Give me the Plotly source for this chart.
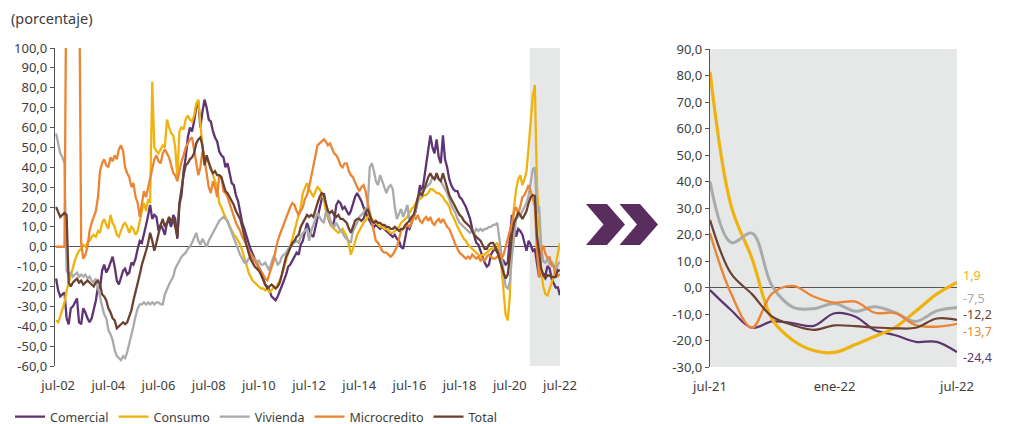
import pandas as pd
import plotly.graph_objects as go

# ---------------- data (monthly, jun-2002 .. jul-2022) ----------------
START = "2002-06-01"

comercial = [
    -16, -22, -25, -24, -23, -36, -39, -31, -30, -28, -26, -38,
    -39, -31, -33, -36, -38, -36, -32, -27, -20, -21, -12, -9,
    -13, -11, -8, -5, -10, -17, -19, -15, -12, -11, -14, -13,
    -8, -9, -6, -1, 3, 2, 6, 11, 16, 21, 14, 16,
    15, 8, 11, 9, 6, 12, 13, 10, 16, 14, 4, 21,
    26, 38, 45, 55, 60, 58, 63, 70, 73, 60, 68, 74,
    70, 64, 63, 58, 55, 53, 48, 46, 45, 40, 42, 36,
    32, 31, 26, 23, 18, 12, 9, 5, 2, -1, -4, -6,
    -8, -11, -14, -16, -19, -20, -22, -25, -26, -27, -25, -22,
    -20, -17, -14, -10, -9, -7, -5, -3, -4, 1, 3, 8,
    12, 9, 6, 5, 10, 14, 20, 24, 27, 21, 15, 12,
    10, 13, 21, 23, 22, 19, 20, 18, 16, 18, 22, 25,
    27, 25, 23, 20, 17, 15, 13, 11, 10, 11, 10, 9,
    10, 9, 8, 7, 6, 5, 6, 4, 3, 0, -1, 5,
    10, 9, 12, 16, 18, 24, 31, 27, 34, 40, 48, 56,
    50, 47, 54, 45, 42, 56, 44, 40, 34, 31, 29, 28,
    28, 25, 24, 22, 20, 17, 14, 9, 5, 2, 1, -2,
    -5, -8, -10, -9, -4, -2, -1, -3, -3, -6, -7, -9,
    -8, 5, 16, 12, 5, 9, 8, 6, 2, -2, 3, 1,
    -2, -1, -8.5, -15.2, -12.8, -13.5, -14.5, -9.7, -11, -16, -18, -20.5, -20.5, -24.4,
]

consumo = [
    -37, -38, -35, -32, -28, -22, -18, -15, -10, -7, -4, -2,
    -1, 1, 0, 2, 3, 5, 6, 5, 8, 7, 12, 14,
    11, 9, 16, 12, 10, 6, 5, 8, 11, 12, 10, 7,
    10, 9, 6, 8, 14, 18, 22, 18, 24, 22, 83, 50,
    48, 47, 49, 51, 50, 64, 60, 57, 56, 50, 35, 58,
    60, 59, 64, 66, 64, 63, 66, 72, 74, 60, 50, 45,
    44, 42, 40, 36, 33, 30, 22, 20, 17, 15, 12, 10,
    8, 6, 5, 3, 1, -2, -5, -9, -13, -15, -17, -18,
    -19, -20, -21, -21, -22, -21, -23, -22, -20, -21, -19, -17,
    -14, -11, -7, -3, 0, 4, 8, 12, 15, 20, 27, 30,
    32, 29, 27, 25, 28, 30, 29, 26, 24, 18, 15, 12,
    10, 9, 8, 7, 8, 9, 7, 5, 1, -4, -1, 3,
    6, 8, 10, 12, 13, 15, 16, 14, 13, 12, 11, 10,
    10, 9, 9, 8, 7, 7, 8, 9, 10, 12, 13, 14,
    15, 17, 19, 20, 22, 24, 24, 25, 26, 26, 27, 29,
    29, 28, 27, 27, 26, 25, 23, 22, 20, 17, 15, 12,
    10, 8, 6, 4, 3, 1, 0, -1, -2, -3, -4, -5,
    -4, -4, -3, -2, -1, -1, 1, 2, -3, -10, -22, -34,
    -37, -25, 5, 20, 29, 34, 36, 31, 34, 38, 50, 62,
    76, 81.4, 31, 11, -12, -20, -23.8, -24.5, -21.5, -18.5, -15, -9, -2.5, 1.9,
]

vivienda = [
    57, 52, 47, 45, 42, -12, -14, -13, -15, -14, -13, -15,
    -14, -15, -14, -16, -15, -17, -18, -16, -20, -25, -30, -34,
    -36, -42, -44, -47, -52, -55, -56, -57, -55, -56, -53, -49,
    -45, -40, -35, -31, -29, -29, -28, -29, -28, -29, -28, -29,
    -28, -28, -29, -29, -24, -21, -19, -17, -15, -11, -9, -7,
    -5, -4, -3, -1, 0, 2, 5, 7, 3, 1, 4, 2,
    0, 3, 5, 7, 9, 11, 13, 14, 15, 14, 13, 10,
    7, 4, 1, -2, -4, -6, -8, -8, -6, -5, -7, -6,
    -8, -7, -9, -9, -8, -10, -12, -8, -5, -6, -9, -8,
    -5, -4, -3, -1, 0, 1, 2, 3, 2, 5, 7, 8,
    9, 3, 8, 11, 14, 17, 15, 13, 12, 17, 19, 14,
    11, 10, 12, 10, 8, 7, 5, 4, 3, 2, 8, 10,
    12, 15, 16, 17, 19, 20, 40, 42, 38, 33, 31, 36,
    33, 30, 27, 30, 31, 29, 20, 14, 17, 19, 15, 18,
    21, 13, 12, 15, 19, 22, 26, 28, 29, 30, 31, 32,
    35, 34, 35, 34, 33, 31, 29, 27, 24, 21, 19, 17,
    14, 12, 11, 10, 9, 8, 7, 8, 7, 9, 8, 9,
    8, 9, 9, 10, 10, 11, 11, 12, 3, -5, -12, -20,
    -21, -18, -5, 5, 14, 15, 16, 18, 20, 22, 26, 32,
    39, 40, 17, 20.5, 0.5, -7.5, -8, -6, -9, -7.3, -9.5, -12.8, -8.8, -7.5,
]

microcredito = [
    0, 0, 0, 0, 0, 160, 220, 250, 230, 200, 180, 150,
    2, -6, -4, 0, 8, 12, 15, 18, 25, 38, 42, 44,
    41, 40, 45, 43, 46, 44, 49, 51, 48, 40, 37, 35,
    30, 32, 25, 22, 15, 22, 28, 25, 30, 35, 40, 44,
    46, 43, 42, 47, 49, 47, 45, 41, 37, 36, 33, 38,
    43, 46, 50, 52, 54, 55, 48, 42, 36, 40, 48, 44,
    38, 30, 27, 33, 30, 25, 36, 35, 28, 27, 25, 22,
    18, 15, 12, 10, 8, 5, 3, 1, -2, -3, -5, -7,
    -9, -10, -12, -14, -16, -17, -14, -10, -7, -2, 3, 6,
    9, 12, 15, 18, 20, 22, 21, 18, 16, 18, 20, 24,
    26, 30, 35, 40, 46, 51, 52, 53, 54, 53, 51, 52,
    49, 47, 46, 44, 41, 40, 42, 42, 38, 36, 35, 32,
    30, 28, 30, 31, 28, 22, 17, 12, 7, 3, 2, 0,
    -2, -3, -3, -4, -5, -4, -2, 0, 4, 8, 9, 10,
    11, 10, 12, 15, 14, 16, 13, 12, 14, 15, 13, 15,
    12, 11, 13, 14, 12, 14, 12, 10, 9, 7, 4, 1,
    -1, -3, -4, -5, -6, -5, -6, -4, -5, -6, -5, -7,
    -6, -7, -5, -4, -5, -6, -6, -5, -3, -6, -4, 0,
    5, 8, 12, 18, 20, 16, 20, 25, 26, 28, 31, 28,
    24, 20.4, -2.2, -15.2, -2.2, 0.6, -3.4, -5.7, -5.3, -9.5, -9.7, -14.2, -14.8, -13.7,
]

total = [
    20, 17, 15, 16, 17, 16, -18, -20, -18, -17, -16, -18,
    -17, -19, -18, -17, -18, -19, -20, -18, -17, -19, -24, -25,
    -27, -31, -33, -36, -37, -41, -40, -39, -38, -39, -38, -35,
    -32, -27, -23, -19, -14, -9, -6, -2, 2, 7, 3, -2,
    2, 7, 11, 14, 10, 12, 15, 13, 14, 10, 5, 22,
    30, 36, 41, 42, 44, 45, 47, 52, 54, 55, 51, 41,
    46, 42, 39, 37, 38, 36, 36, 35, 31, 28, 27, 25,
    23, 21, 18, 16, 14, 10, 5, 1, -3, -6, -8, -10,
    -11, -12, -14, -17, -19, -21, -20, -19, -20, -21, -20, -18,
    -14, -9, -5, -3, 0, 2, 3, 5, 6, 10, 12, 14,
    16, 15, 16, 15, 19, 22, 25, 27, 26, 22, 18, 17,
    18, 16, 15, 16, 14, 14, 13, 12, 9, 7, 10, 13,
    14, 14, 13, 14, 17, 19, 16, 13, 12, 13, 12, 12,
    11, 11, 10, 10, 9, 9, 10, 9, 8, 9, 9, 11,
    12, 13, 15, 16, 20, 25, 27, 26, 29, 32, 35, 37,
    35, 34, 37, 34, 33, 37, 33, 30, 26, 24, 22, 20,
    18, 16, 15, 13, 12, 11, 10, 8, 6, 5, 4, 3,
    1, -1, -1, 1, 2, 2, 0, -2, -6, -10, -13, -16,
    -14, -5, 6, 12, 15, 17, 16, 14, 16, 18, 22, 25,
    26, 25.5, 5.3, -2.5, -11, -14.2, -16, -14.3, -14.6, -15.1, -15.4, -15.2, -11.7, -12.2,
]

series_names = ["Comercial", "Consumo", "Vivienda", "Microcredito", "Total"]
series_values = [comercial, consumo, vivienda, microcredito, total]
colors = ["#5e3473", "#efb310", "#a9aaac", "#ec8533", "#6b4231"]

left_tick_dates = [f"{y}-07-01" for y in range(2002, 2023, 2)]
left_tick_text = [f"jul-{y % 100:02d}" for y in range(2002, 2023, 2)]
right_tick_dates = ["2021-07-01", "2022-01-01", "2022-07-01"]
right_tick_text = ["jul-21", "ene-22", "jul-22"]
ZOOM_MONTHS = 13          # jul-21 .. jul-22
SHADE_START = "2021-04-18"

left_y_range = [-60, 100]
right_y_range = [-30, 90]
left_x_range = ["2002-05-16", "2022-07-02"]
right_x_range = ["2021-07-01", "2022-07-01"]
left_y_ticks = list(range(-60, 101, 10))
right_y_ticks = list(range(-30, 91, 10))


def fmt(v):
    return f"{v:.1f}".replace(".", ",")


# ---------------- layout helpers (page pixels -> figure fraction) ----------------
W, H = 1011, 424
OFF = 8   # page body margin


def px(x):
    return (x - OFF) / W


def py(y):
    return 1 - (y - OFF) / H


def zero_pos(dom, rng):
    return dom[0] + (0 - rng[0]) / (rng[1] - rng[0]) * (dom[1] - dom[0])


left_xdom = [px(55), px(560)]
left_ydom = [py(366), py(48)]
right_xdom = [px(710), px(957)]
right_ydom = [py(367), py(49)]

fig = go.Figure()

for name, vals, col in zip(series_names, series_values, colors):
    d = pd.date_range(START, periods=len(vals), freq="MS")
    fig.add_trace(go.Scatter(x=d, y=vals, name=name, mode="lines",
                             line=dict(color=col, width=2.3),
                             xaxis="x", yaxis="y", hoverinfo="skip"))

right_widths = [2.2, 3.2, 3, 2.4, 2.2]
for name, vals, col, lw in zip(series_names, series_values, colors, right_widths):
    d = pd.date_range(START, periods=len(vals), freq="MS")
    fig.add_trace(go.Scatter(x=d[-ZOOM_MONTHS:], y=vals[-ZOOM_MONTHS:], name=name,
                             mode="lines", showlegend=False,
                             line=dict(color=col, width=lw, shape="spline", smoothing=1),
                             xaxis="x2", yaxis="y2", hoverinfo="skip"))

axis_col = "#555555"
txt_col = "#3d3d3d"
tick_font = dict(family="Noto Sans", size=13, color=txt_col)

xaxis_common = dict(showgrid=False, zeroline=False, showline=False,
                    ticks="outside", ticklen=7, tickcolor="rgba(0,0,0,0)",
                    tickfont=tick_font, automargin=False, fixedrange=True,
                    tickmode="array")
yaxis_common = dict(showgrid=False, zeroline=True, zerolinecolor=axis_col, zerolinewidth=1.2,
                    showline=True, linecolor=axis_col, linewidth=1.2,
                    ticks="outside", ticklen=4, tickcolor=axis_col,
                    tickfont=tick_font, automargin=False, fixedrange=True,
                    tickmode="array")
# small tick marks sitting on the zero line
zero_ticks_common = dict(anchor="free", side="bottom", showgrid=False, zeroline=False,
                         showline=False, ticks="inside", ticklen=4, tickwidth=1.2,
                         tickcolor=axis_col, showticklabels=False, fixedrange=True,
                         automargin=False, tickmode="array", type="date")

fig.update_layout(
    width=W, height=H,
    margin=dict(l=0, r=0, t=0, b=0, pad=0),
    paper_bgcolor="white", plot_bgcolor="rgba(0,0,0,0)",
    font=dict(family="Noto Sans", size=13, color=txt_col),
    showlegend=True,
    xaxis=dict(domain=left_xdom, range=left_x_range,
               tickvals=left_tick_dates, ticktext=left_tick_text, anchor="y",
               **xaxis_common),
    yaxis=dict(domain=left_ydom, range=left_y_range,
               tickvals=left_y_ticks, ticktext=[fmt(v) for v in left_y_ticks],
               anchor="x", **yaxis_common),
    xaxis2=dict(domain=right_xdom, range=right_x_range,
                tickvals=right_tick_dates, ticktext=right_tick_text, anchor="y2",
                **xaxis_common),
    yaxis2=dict(domain=right_ydom, range=right_y_range,
                tickvals=right_y_ticks, ticktext=[fmt(v) for v in right_y_ticks],
                anchor="x2", **yaxis_common),
    xaxis3=dict(overlaying="x", domain=left_xdom, range=left_x_range,
                position=zero_pos(left_ydom, left_y_range),
                tickvals=left_tick_dates[1:], **zero_ticks_common),
    xaxis4=dict(overlaying="x2", domain=right_xdom, range=right_x_range,
                position=zero_pos(right_ydom, right_y_range),
                tickvals=right_tick_dates[1:], **zero_ticks_common),
    legend=dict(orientation="h", x=px(10), y=0, xanchor="left", yanchor="bottom",
                font=dict(family="Noto Sans", size=12.5, color=txt_col),
                itemwidth=30, bgcolor="rgba(0,0,0,0)", borderwidth=0),
)

shade = "#e6e7e7"
# shaded period in the long chart
fig.add_shape(type="rect", xref="x", yref="y domain", x0=SHADE_START, x1="2022-07-01",
              y0=0, y1=1, fillcolor=shade, line=dict(width=0), layer="below")
# background of the zoomed chart
fig.add_shape(type="rect", xref="x2 domain", yref="y2 domain", x0=0, x1=1, y0=0, y1=1,
              fillcolor=shade, line=dict(width=0), layer="below")

# double chevron arrow
chevrons = [
    [(586, 204), (607, 204), (625, 224.5), (607, 245), (586, 245), (603.5, 224.5)],
    [(619.5, 204), (640, 204), (658, 224.5), (640, 245), (619.5, 245), (637, 224.5)],
]
for pts in chevrons:
    path = "M " + " L ".join(f"{px(x):.5f},{py(y):.5f}" for x, y in pts) + " Z"
    fig.add_shape(type="path", xref="paper", yref="paper", path=path,
                  fillcolor="#5a2d5f", line=dict(width=0))

# title
fig.add_annotation(text="(porcentaje)", x=px(9), y=py(18), xref="paper", yref="paper",
                   xanchor="left", yanchor="middle", showarrow=False,
                   font=dict(family="Noto Sans", size=14.5, color=txt_col))

# end-value labels of the zoomed chart
label_order = [1, 2, 4, 3, 0]      # Consumo, Vivienda, Total, Microcredito, Comercial
label_y = [275, 298, 314.5, 331.5, 357]
for idx, yy in zip(label_order, label_y):
    fig.add_annotation(text=fmt(series_values[idx][-1]), x=px(962), y=py(yy),
                       xref="paper", yref="paper", xanchor="left", yanchor="middle",
                       showarrow=False, borderpad=0,
                       font=dict(family="Noto Sans", size=12.5, color=colors[idx]))

fig.write_html("out.html")
